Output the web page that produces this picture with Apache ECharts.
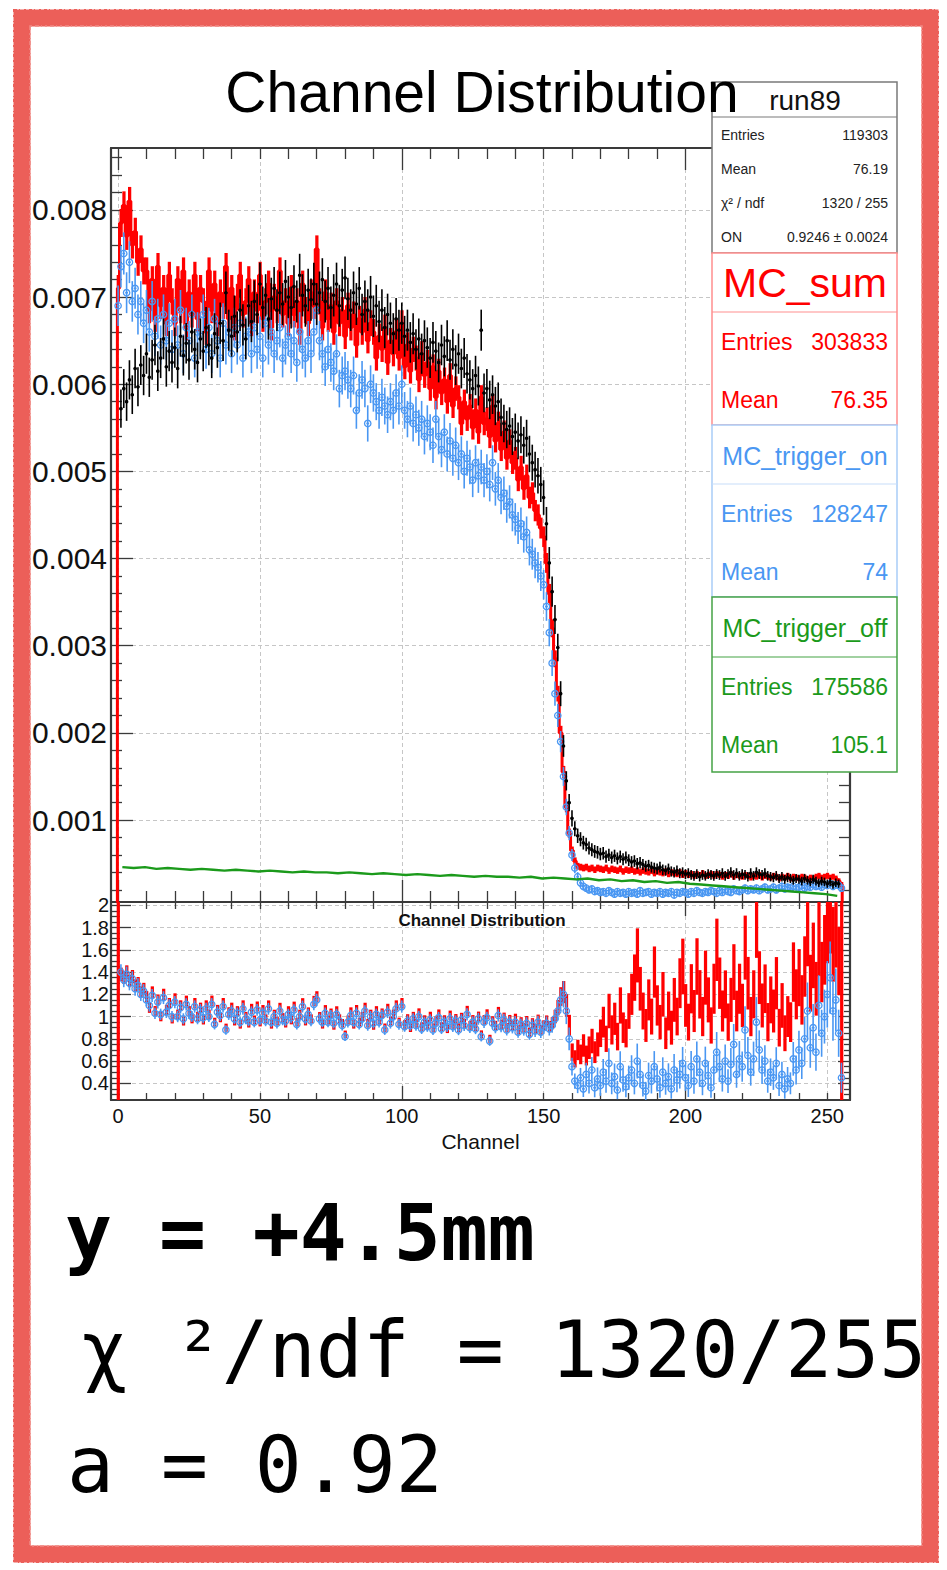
<!DOCTYPE html>
<html>
<head>
<meta charset="utf-8">
<title>Channel Distribution</title>
<script src="https://cdn.jsdelivr.net/npm/echarts@6.0.0/dist/echarts.min.js"></script>
<style>
  html, body { margin: 0; padding: 0; background: #fff; }
  #chart { width: 947px; height: 1570px; }
</style>
</head>
<body>
<div id="chart"></div>
<script>
// per-channel values (channels 0..255), main pad in units of 1e-3
const dataVals = [0.005,
  5.72,5.95,5.80,6.05,5.88,6.18,5.97,6.22,6.10,
  6.35,6.08,6.28,6.45,6.15,6.30,6.52,6.20,6.38,6.25,
  6.42,6.18,6.55,6.33,6.47,6.28,6.60,6.40,6.25,6.52,
  6.38,6.65,6.45,6.30,6.58,6.42,6.70,6.50,7.05,6.62,
  6.55,6.78,6.60,6.85,6.68,6.52,6.90,6.72,6.95,6.80,
  7.15,6.88,7.02,6.75,6.98,7.10,6.85,7.05,6.92,7.18,
  7.00,6.88,7.12,6.95,7.25,7.02,6.90,7.08,6.97,7.15,
  6.92,7.05,7.20,6.95,7.10,6.88,7.02,7.15,6.90,7.08,
  7.22,6.98,6.85,7.05,6.92,7.10,6.80,6.95,6.85,7.00,
  6.78,6.90,6.72,6.85,6.65,6.80,6.70,6.58,6.75,6.62,
  6.70,6.55,6.62,6.48,6.58,6.40,6.52,6.35,6.50,6.42,
  6.30,6.48,6.38,6.25,6.45,6.32,6.50,6.28,6.40,6.22,
  6.35,6.18,6.30,6.12,6.05,5.95,6.10,5.98,6.62,5.90,
  5.95,5.82,5.88,5.75,5.80,5.62,5.55,5.48,5.52,5.40,
  5.45,5.35,5.42,5.30,5.38,5.20,5.10,5.02,4.95,4.85,
  4.70,4.40,3.95,3.62,3.30,2.98,2.45,1.85,1.45,1.20,
  1.02,0.90,0.82,0.78,0.74,0.72,0.68,0.66,0.64,0.63,
  0.61,0.62,0.58,0.60,0.57,0.59,0.56,0.58,0.55,0.57,
  0.54,0.52,0.53,0.50,0.51,0.49,0.47,0.48,0.46,0.45,
  0.44,0.46,0.43,0.42,0.44,0.41,0.40,0.42,0.39,0.40,
  0.38,0.39,0.37,0.36,0.38,0.35,0.37,0.36,0.38,0.37,
  0.36,0.38,0.37,0.39,0.36,0.38,0.40,0.37,0.39,0.36,
  0.38,0.37,0.35,0.39,0.36,0.40,0.38,0.37,0.39,0.36,
  0.35,0.34,0.36,0.33,0.35,0.32,0.34,0.33,0.31,0.33,
  0.32,0.30,0.33,0.31,0.29,0.32,0.30,0.28,0.30,0.29,
  0.27,0.29,0.26,0.28,0.27,0.005];

const mcSumVals = [7.10,
  7.85,8.05,7.70,8.10,7.60,7.75,7.40,7.55,7.30,
  7.30,6.85,7.20,6.75,7.35,6.90,7.10,6.70,7.25,6.95,
  6.70,7.20,6.85,7.30,6.65,7.05,6.80,7.25,6.75,7.10,
  6.95,6.60,7.30,6.85,7.15,6.70,7.05,6.90,7.35,6.75,
  7.10,6.65,7.00,7.25,6.80,6.95,7.20,6.70,7.05,6.85,
  7.25,6.75,6.95,7.15,6.65,7.00,6.85,7.30,6.80,6.95,
  6.70,7.10,6.80,6.95,6.60,7.15,6.85,6.70,7.05,6.90,
  7.55,6.95,6.65,7.05,6.75,6.90,6.60,6.95,6.70,6.85,
  6.55,6.90,6.65,6.80,6.45,6.75,6.60,6.85,6.50,6.70,
  6.60,6.30,6.55,6.40,6.65,6.25,6.50,6.35,6.60,6.30,
  6.70,6.20,6.45,6.15,6.40,6.30,6.05,6.35,6.10,6.25,
  5.95,6.20,5.85,6.15,5.90,6.05,5.80,6.10,5.75,5.95,
  5.85,5.55,5.80,5.60,5.75,5.50,5.70,5.45,5.85,5.55,
  5.60,5.40,5.75,5.35,5.55,5.25,5.45,5.15,5.35,5.10,
  5.15,4.90,5.05,4.80,4.95,4.70,4.75,4.55,4.50,4.35,
  4.25,3.95,3.60,3.20,2.85,2.45,2.00,1.55,1.15,0.85,
  0.65,0.53,0.47,0.46,0.45,0.46,0.44,0.45,0.43,0.45,
  0.44,0.43,0.45,0.42,0.44,0.43,0.42,0.44,0.41,0.43,
  0.42,0.43,0.41,0.42,0.40,0.42,0.41,0.40,0.42,0.39,
  0.41,0.40,0.39,0.41,0.38,0.40,0.39,0.38,0.40,0.37,
  0.39,0.37,0.38,0.36,0.38,0.37,0.39,0.36,0.37,0.38,
  0.36,0.38,0.37,0.35,0.37,0.36,0.38,0.35,0.37,0.36,
  0.35,0.37,0.36,0.34,0.36,0.35,0.37,0.34,0.36,0.35,
  0.34,0.36,0.35,0.33,0.35,0.34,0.36,0.33,0.35,0.34,
  0.33,0.35,0.34,0.32,0.34,0.33,0.35,0.36,0.34,0.35,
  0.36,0.34,0.35,0.33,0.30,0.26];

const mcOnVals = [6.90,
  7.35,7.50,7.05,7.40,6.95,7.10,6.80,6.95,6.70,
  6.85,6.60,6.95,6.55,6.75,6.45,6.80,6.50,6.70,6.40,
  6.75,6.45,6.85,6.35,6.65,6.50,6.80,6.30,6.60,6.55,
  6.80,6.40,6.65,6.35,6.75,6.50,6.30,6.70,6.45,6.60,
  6.35,6.65,6.45,6.70,6.30,6.55,6.60,6.35,6.65,6.40,
  6.55,6.30,6.70,6.45,6.60,6.35,6.50,6.65,6.30,6.45,
  6.55,6.35,6.50,6.25,6.60,6.40,6.30,6.50,6.35,6.60,
  6.85,6.50,6.35,6.20,6.40,6.25,6.15,6.35,5.95,6.10,
  6.15,6.05,5.95,6.10,5.70,5.90,6.05,5.95,5.55,6.00,
  5.90,5.80,5.70,5.85,5.75,5.65,5.80,5.70,5.90,5.75,
  6.00,5.70,5.60,5.75,5.55,5.65,5.50,5.60,5.40,5.55,
  5.45,5.30,5.60,5.40,5.25,5.45,5.20,5.35,5.15,5.30,
  5.10,5.20,5.00,5.15,5.05,4.90,5.10,4.95,5.05,4.90,
  5.00,4.85,5.10,4.80,4.90,4.70,4.75,4.60,4.65,4.50,
  4.45,4.35,4.40,4.25,4.30,4.10,4.05,3.95,3.90,3.80,
  3.70,3.45,3.15,2.80,2.45,2.20,1.90,1.50,1.15,0.85,
  0.60,0.45,0.35,0.28,0.24,0.22,0.20,0.21,0.18,0.19,
  0.17,0.18,0.16,0.19,0.17,0.15,0.18,0.16,0.17,0.15,
  0.18,0.16,0.17,0.15,0.19,0.16,0.17,0.18,0.15,0.17,
  0.16,0.18,0.15,0.17,0.16,0.18,0.14,0.17,0.16,0.18,
  0.17,0.15,0.18,0.16,0.19,0.17,0.16,0.18,0.17,0.19,
  0.18,0.16,0.19,0.17,0.20,0.18,0.17,0.21,0.19,0.18,
  0.20,0.22,0.19,0.21,0.20,0.22,0.19,0.21,0.23,0.20,
  0.21,0.23,0.20,0.22,0.24,0.21,0.23,0.22,0.24,0.21,
  0.23,0.25,0.22,0.24,0.23,0.26,0.24,0.25,0.23,0.26,
  0.25,0.27,0.24,0.26,0.25,0.22];

// MC_trigger_off, one value per 4 channels
const mcOffVals = [
  0.46,0.45,0.46,0.44,0.45,0.44,0.43,0.44,0.43,0.42,0.43,0.42,0.41,0.42,0.41,0.40,
  0.41,0.40,0.40,0.39,0.40,0.39,0.38,0.39,0.38,0.37,0.38,0.37,0.36,0.37,0.36,0.35,
  0.36,0.35,0.35,0.34,0.35,0.33,0.34,0.33,0.32,0.33,0.31,0.32,0.30,0.31,0.29,0.30,
  0.28,0.29,0.27,0.26,0.25,0.24,0.23,0.22,0.21,0.20,0.19,0.18,0.17,0.16,0.15,0.13];

// ratio pad
const ratioSumVals = [1.30,
  1.38,1.35,1.40,1.32,1.36,1.28,1.30,1.22,1.25,
  1.18,1.08,1.22,1.05,1.15,1.00,1.20,1.06,1.12,0.98,
  1.16,1.02,1.10,0.96,1.14,1.05,0.98,1.12,1.00,1.08,
  0.97,1.10,1.02,1.14,0.95,1.06,0.99,1.12,0.90,1.04,
  1.08,0.96,1.05,0.93,1.10,1.00,0.94,1.07,0.97,1.09,
  0.95,1.06,0.98,1.10,0.93,1.02,0.96,1.08,0.99,0.94,
  1.05,0.97,1.09,0.95,1.02,1.12,0.96,1.04,0.98,1.14,
  1.18,1.00,0.93,1.06,0.97,1.03,0.92,1.05,0.98,0.94,
  0.84,0.97,1.04,0.93,1.06,0.95,1.00,1.08,0.94,1.02,
  0.92,1.05,0.97,1.03,0.90,1.07,0.96,1.02,1.10,0.95,
  1.12,0.93,0.98,0.90,1.00,0.94,1.03,0.91,0.97,0.93,
  1.00,0.90,0.96,1.02,0.91,0.97,0.89,1.01,0.93,0.98,
  0.90,0.99,0.94,1.05,0.92,0.97,0.91,1.00,0.84,0.97,
  1.02,0.80,0.96,0.92,1.04,0.93,0.99,0.90,0.97,0.92,
  0.98,0.88,0.95,0.90,0.96,0.86,0.94,0.89,0.97,0.88,
  0.92,0.96,0.91,0.94,1.00,1.08,1.18,1.22,1.10,0.92,
  0.68,0.62,0.70,0.66,0.74,0.65,0.72,0.78,0.68,0.75,
  0.85,0.95,0.80,1.05,0.88,0.98,0.82,1.10,0.90,0.85,
  1.05,1.20,1.35,1.55,1.25,1.05,0.92,1.15,1.00,1.40,
  1.10,0.95,1.20,0.85,1.05,0.90,1.15,1.00,1.30,1.45,
  1.10,0.95,1.25,1.05,1.45,1.20,1.00,1.35,1.15,0.92,
  1.25,1.60,1.30,1.05,1.20,0.95,1.15,1.40,1.05,1.25,
  1.10,1.62,1.30,1.00,1.20,1.85,1.35,1.10,1.25,0.95,
  1.15,1.05,1.30,0.90,1.10,0.85,1.00,0.95,1.40,1.20,
  1.35,1.15,1.45,1.80,1.30,1.55,1.25,1.70,1.40,1.60,
  1.85,1.95,1.65,1.80,1.50,1.60];

const ratioOnVals = [null,
  1.40,1.33,1.38,1.30,1.34,1.25,1.28,1.20,1.23,
  1.15,1.10,1.19,1.03,1.13,1.02,1.17,1.04,1.10,1.00,
  1.13,1.00,1.08,0.98,1.11,1.03,1.00,1.09,0.98,1.06,
  0.99,1.07,1.00,1.11,0.93,1.04,1.01,1.09,0.88,1.02,
  1.05,0.98,1.03,0.95,1.07,0.98,0.96,1.04,0.95,1.06,
  0.97,1.03,0.96,1.07,0.95,1.00,0.94,1.05,0.97,0.96,
  1.02,0.99,1.06,0.93,1.00,1.09,0.98,1.02,0.96,1.11,
  1.15,0.98,0.95,1.03,0.95,1.01,0.94,1.02,0.96,0.92,
  0.82,0.95,1.01,0.95,1.03,0.93,0.98,1.05,0.92,1.00,
  0.94,1.02,0.95,1.01,0.88,1.04,0.94,1.00,1.07,0.93,
  1.09,0.91,0.96,0.92,0.98,0.92,1.00,0.89,0.95,0.91,
  0.97,0.88,0.94,0.99,0.89,0.95,0.91,0.98,0.91,0.96,
  0.88,0.97,0.92,1.02,0.90,0.95,0.89,0.98,0.82,0.95,
  0.99,0.78,0.94,0.90,1.01,0.91,0.97,0.88,0.95,0.90,
  0.95,0.86,0.93,0.88,0.94,0.84,0.92,0.87,0.95,0.86,
  0.90,0.94,0.89,0.92,0.98,1.05,1.15,1.20,1.05,0.80,
  0.55,0.42,0.38,0.45,0.35,0.48,0.40,0.52,0.36,0.44,
  0.38,0.50,0.42,0.58,0.40,0.46,0.34,0.55,0.43,0.37,
  0.45,0.52,0.40,0.60,0.48,0.38,0.33,0.47,0.42,0.55,
  0.44,0.36,0.50,0.40,0.46,0.35,0.52,0.43,0.48,0.58,
  0.45,0.38,0.55,0.42,0.62,0.50,0.40,0.58,0.47,0.36,
  0.52,0.68,0.55,0.44,0.60,0.42,0.57,0.75,0.48,0.62,
  0.55,0.88,0.65,0.50,0.62,0.95,0.70,0.52,0.60,0.42,
  0.50,0.45,0.58,0.38,0.48,0.35,0.44,0.40,0.62,0.52,
  0.70,0.58,0.80,1.05,0.72,0.90,0.68,1.10,0.85,1.00,
  1.20,1.35,1.05,1.15,0.85,0.45];

const entriesData = 119303, entriesSum = 303833, entriesOn = 128247;

const xLabelVals = [0, 50, 100, 150, 200, 250];
const xLongTicks = [0, 100, 200];
const yLabelVals = [0.001, 0.002, 0.003, 0.004, 0.005, 0.006, 0.007, 0.008];
const rLabelVals = [0.4, 0.6, 0.8, 1, 1.2, 1.4, 1.6, 1.8, 2];

const X_MIN = -2.5, X_MAX = 258;
const Y_MIN = 0.00006, Y_MAX = 0.00871;
const R_MIN = 0.25, R_MAX = 2.03;
const U = 1e-3;

const xShortTicks = [];
for (let c = 10; c <= 250; c += 10) if (xLongTicks.indexOf(c) < 0) xShortTicks.push(c);
const yMinorTicks = [];
for (let k = 1; k <= 43; k++) if (k % 5) yMinorTicks.push(k * 0.0002);
const rMinorTicks = [];
for (let k = 6; k <= 40; k++) if (k % 4) rMinorTicks.push(k * 0.05);

// points with poisson error from the entries count
function withErr(vals, n) {
  return vals.map((v, i) => [i, v * U, Math.sqrt(v * U / n)]);
}
function ratioErr(vals, mc, nmc, cap) {
  return vals.map((r, i) => {
    if (r == null) return [i, NaN, 0];
    let rel = Math.sqrt(1 / (dataVals[i] * U * entriesData) + 1 / (mc[i] * U * nmc));
    if (cap) rel = Math.min(rel, cap);
    return [i, r, r * rel];
  });
}

const RED = '#ff0000', BLUE = '#4a97f2', GREEN = '#1b9a1b', BLACK = '#000000';
const FRAME = '#3a3a3a';

function bandItem(color) {
  return function (params, api) {
    const x = api.value(0), v = api.value(1), e = api.value(2);
    const a = api.coord([x - 0.5, v + e]);
    const b = api.coord([x + 0.5, v - e]);
    return {
      type: 'rect',
      shape: { x: a[0], y: a[1], width: b[0] - a[0] + 0.4, height: Math.max(b[1] - a[1], 2) },
      style: { fill: color }
    };
  };
}
function errItem(color, open) {
  return function (params, api) {
    const x = api.value(0), v = api.value(1), e = api.value(2);
    if (isNaN(v)) return null;
    const c = api.coord([x, v]);
    const t = api.coord([x, v + e]);
    const b = api.coord([x, v - e]);
    const l = api.coord([x - 0.5, v]);
    const r = api.coord([x + 0.5, v]);
    const kids = [
      { type: 'line', shape: { x1: c[0], y1: t[1], x2: c[0], y2: b[1] }, style: { stroke: color, lineWidth: 1.6 } },
      { type: 'line', shape: { x1: l[0], y1: c[1], x2: r[0], y2: c[1] }, style: { stroke: color, lineWidth: 1.6 } }
    ];
    if (open) kids.push({ type: 'circle', shape: { cx: c[0], cy: c[1], r: 3.2 }, style: { fill: 'none', stroke: color, lineWidth: 1.3 } });
    else kids.push({ type: 'circle', shape: { cx: c[0], cy: c[1], r: 1.8 }, style: { fill: color } });
    return { type: 'group', children: kids };
  };
}

const tickStyle = { color: FRAME, width: 1.3 };
const gridLine = { show: true, lineStyle: { color: '#c6c6c6', type: [4, 3], width: 1 } };

function axis(kind, grid, pos, ticks, len, extra) {
  const isX = kind === 'x';
  return Object.assign({
    type: 'value', gridIndex: grid, position: pos,
    min: isX ? X_MIN : (grid === 0 ? Y_MIN : R_MIN),
    max: isX ? X_MAX : (grid === 0 ? Y_MAX : R_MAX),
    axisLine: { show: false, onZero: false },
    axisLabel: { show: false },
    splitLine: { show: false },
    axisTick: { show: true, inside: true, length: len, customValues: ticks, lineStyle: tickStyle }
  }, extra || {});
}
const frameLine = { show: true, onZero: false, lineStyle: { color: FRAME, width: 2.2 } };

const xAxes = [
  axis('x', 0, 'bottom', xLongTicks, 22, { axisLine: frameLine }),
  axis('x', 0, 'bottom', xShortTicks, 11),
  axis('x', 0, 'bottom', xLabelVals, 0, { axisTick: { show: false, customValues: xLabelVals }, splitLine: gridLine }),
  axis('x', 0, 'top', xLongTicks, 22, { axisLine: frameLine }),
  axis('x', 0, 'top', xShortTicks, 11),
  axis('x', 1, 'bottom', xLongTicks, 14, { axisLine: frameLine }),
  axis('x', 1, 'bottom', xShortTicks, 7),
  axis('x', 1, 'bottom', xLabelVals, 0, {
    axisTick: { show: false, customValues: xLabelVals },
    splitLine: gridLine,
    axisLabel: { show: true, customValues: xLabelVals, margin: 6, fontSize: 20, color: '#111', fontFamily: 'Liberation Sans' },
    name: 'Channel', nameLocation: 'middle', nameGap: 31,
    nameTextStyle: { fontSize: 21, color: '#111', fontFamily: 'Liberation Sans' }
  }),
  axis('x', 1, 'top', xLongTicks, 14, { axisLine: frameLine }),
  axis('x', 1, 'top', xShortTicks, 7)
];

const yAxes = [
  axis('y', 0, 'left', yLabelVals, 22, {
    axisLine: frameLine, splitLine: gridLine,
    axisLabel: { show: true, customValues: yLabelVals, margin: 4, fontSize: 30, color: '#111', fontFamily: 'Liberation Sans',
      formatter: v => (+v).toFixed(3) }
  }),
  axis('y', 0, 'left', yMinorTicks, 11),
  axis('y', 0, 'right', yLabelVals, 22, { axisLine: frameLine }),
  axis('y', 0, 'right', yMinorTicks, 11),
  axis('y', 1, 'left', rLabelVals, 20, {
    axisLine: frameLine, splitLine: gridLine,
    axisLabel: { show: true, customValues: rLabelVals, margin: 2, fontSize: 20, color: '#111', fontFamily: 'Liberation Sans',
      formatter: v => String(+(+v).toFixed(1)) }
  }),
  axis('y', 1, 'left', rMinorTicks, 9),
  axis('y', 1, 'right', rLabelVals, 12, { axisLine: frameLine }),
  axis('y', 1, 'right', rMinorTicks, 6)
];

const sumPts = withErr(mcSumVals, entriesSum);
const sumStep = [[-0.5, Y_MIN]].concat(sumPts.map(p => [p[0], p[1]])).concat([[255.5, Y_MIN]]);
const offPts = mcOffVals.map((v, k) => [k * 4 + 1.5, v * U]);

const series = [
  { type: 'custom', name: 'MC_sum', xAxisIndex: 0, yAxisIndex: 0, clip: true, z: 2,
    renderItem: bandItem(RED), encode: { x: 0, y: 1 }, data: sumPts },
  { type: 'line', xAxisIndex: 0, yAxisIndex: 0, step: 'middle', showSymbol: false, symbol: 'none', clip: true, z: 2,
    lineStyle: { color: RED, width: 3 }, data: sumStep },
  { type: 'custom', name: 'MC_trigger_on', xAxisIndex: 0, yAxisIndex: 0, clip: true, z: 3,
    renderItem: errItem(BLUE, true), encode: { x: 0, y: 1 }, data: withErr(mcOnVals, entriesOn) },
  { type: 'custom', name: 'run89', xAxisIndex: 0, yAxisIndex: 0, clip: true, z: 4,
    renderItem: errItem(BLACK, false), encode: { x: 0, y: 1 }, data: withErr(dataVals, entriesData) },
  { type: 'line', name: 'MC_trigger_off', xAxisIndex: 0, yAxisIndex: 0, showSymbol: false, symbol: 'none', clip: true, z: 5,
    lineStyle: { color: GREEN, width: 2.4 }, data: offPts },
  { type: 'custom', xAxisIndex: 7, yAxisIndex: 4, clip: true, z: 2,
    renderItem: bandItem(RED), encode: { x: 0, y: 1 }, data: ratioErr(ratioSumVals, mcSumVals, entriesSum, 0) },
  { type: 'custom', xAxisIndex: 7, yAxisIndex: 4, clip: true, z: 3,
    renderItem: errItem(BLUE, true), encode: { x: 0, y: 1 }, data: ratioErr(ratioOnVals, mcOnVals, entriesOn, 0.3) }
];

function txt(x, y, text, size, color, align, extra) {
  return {
    type: 'text', x: x, y: y, z: 110,
    style: Object.assign({
      text: text, fill: color, fontSize: size, fontFamily: 'Liberation Sans',
      textAlign: align || 'left', textVerticalAlign: 'middle', align: align || 'left', verticalAlign: 'middle'
    }, extra || {})
  };
}
function box(x, y, w, h, stroke) {
  return { type: 'rect', z: 100, shape: { x: x, y: y, width: w, height: h }, style: { fill: '#fff', stroke: stroke, lineWidth: 1.5 } };
}
function hline(x1, x2, y, stroke) {
  return { type: 'line', z: 101, shape: { x1: x1, y1: y, x2: x2, y2: y }, style: { stroke: stroke, lineWidth: 1.2 } };
}

const BX = 712, BW = 185, BR = 888, BL = 721;
const graphics = [
  // stats box of the data
  box(BX, 82, BW, 171, '#7a7a7a'), hline(BX, BX + BW, 117, '#7a7a7a'),
  txt(805, 100, 'run89', 28, '#111', 'center'),
  txt(BL, 135, 'Entries', 14, '#222'), txt(BR, 135, '119303', 14, '#222', 'right'),
  txt(BL, 169, 'Mean', 14, '#222'), txt(BR, 169, '76.19', 14, '#222', 'right'),
  txt(BL, 203, 'χ² / ndf', 14, '#222'), txt(BR, 203, '1320 / 255', 14, '#222', 'right'),
  txt(BL, 237, 'ON', 14, '#222'), txt(BR, 237, '0.9246 ± 0.0024', 14, '#222', 'right'),
  // MC_sum
  box(BX, 253, BW, 172, '#ff8f8f'), hline(BX, BX + BW, 312, '#ff8f8f'),
  txt(805, 283, 'MC_sum', 41, RED, 'center'),
  txt(BL, 342, 'Entries', 23, RED), txt(BR, 342, '303833', 23, RED, 'right'),
  txt(BL, 400, 'Mean', 23, RED), txt(BR, 400, '76.35', 23, RED, 'right'),
  // MC_trigger_on
  box(BX, 425, BW, 172, '#a9cdf8'), hline(BX, BX + BW, 484, '#c7def9'),
  txt(805, 456, 'MC_trigger_on', 25, BLUE, 'center'),
  txt(BL, 514, 'Entries', 23, BLUE), txt(BR, 514, '128247', 23, BLUE, 'right'),
  txt(BL, 572, 'Mean', 23, BLUE), txt(BR, 572, '74', 23, BLUE, 'right'),
  // MC_trigger_off
  box(BX, 597, BW, 175, '#45a345'), hline(BX, BX + BW, 657, '#45a345'),
  txt(805, 628, 'MC_trigger_off', 25, GREEN, 'center'),
  txt(BL, 687, 'Entries', 23, GREEN), txt(BR, 687, '175586', 23, GREEN, 'right'),
  txt(BL, 745, 'Mean', 23, GREEN), txt(BR, 745, '105.1', 23, GREEN, 'right'),
  // titles
  txt(482, 92, 'Channel Distribution', 57, '#000', 'center'),
  txt(482, 920, 'Channel Distribution', 17, '#111', 'center', { fontWeight: 'bold' }),
  // notes under the chart
  txt(65, 1233, 'y = +4.5mm', 78, '#000', 'left', { fontFamily: 'DejaVu Sans Mono', fontWeight: 'bold' }),
  txt(34, 1350, ' χ ²/ndf = 1320/255', 78, '#000', 'left', { fontFamily: 'DejaVu Sans Mono' }),
  txt(67, 1465, 'a = 0.92', 78, '#000', 'left', { fontFamily: 'DejaVu Sans Mono' }),
  // hand drawn red frame
  { type: 'rect', z: 200, shape: { x: 22, y: 18, width: 908, height: 1536 },
    style: { fill: 'none', stroke: '#ec5f59', lineWidth: 17 } },
  { type: 'rect', z: 201, shape: { x: 14, y: 10, width: 924, height: 1552 },
    style: { fill: 'none', stroke: '#ec5f59', lineWidth: 2, lineDash: [3, 2, 1, 4, 2, 3] } },
  { type: 'rect', z: 201, shape: { x: 30, y: 26, width: 892, height: 1520 },
    style: { fill: 'none', stroke: '#f08a85', lineWidth: 1.5, lineDash: [2, 3, 4, 2, 1, 3] } }
];

const chart = echarts.init(document.getElementById('chart'), null, { renderer: 'svg' });
chart.setOption({
  animation: false,
  backgroundColor: '#fff',
  grid: [
    { left: 111, top: 148, width: 739, height: 754, outerBoundsMode: 'none' },
    { left: 111, top: 902, width: 739, height: 198, outerBoundsMode: 'none' }
  ],
  xAxis: xAxes,
  yAxis: yAxes,
  series: series,
  graphic: { elements: graphics }
});
</script>
</body>
</html>
